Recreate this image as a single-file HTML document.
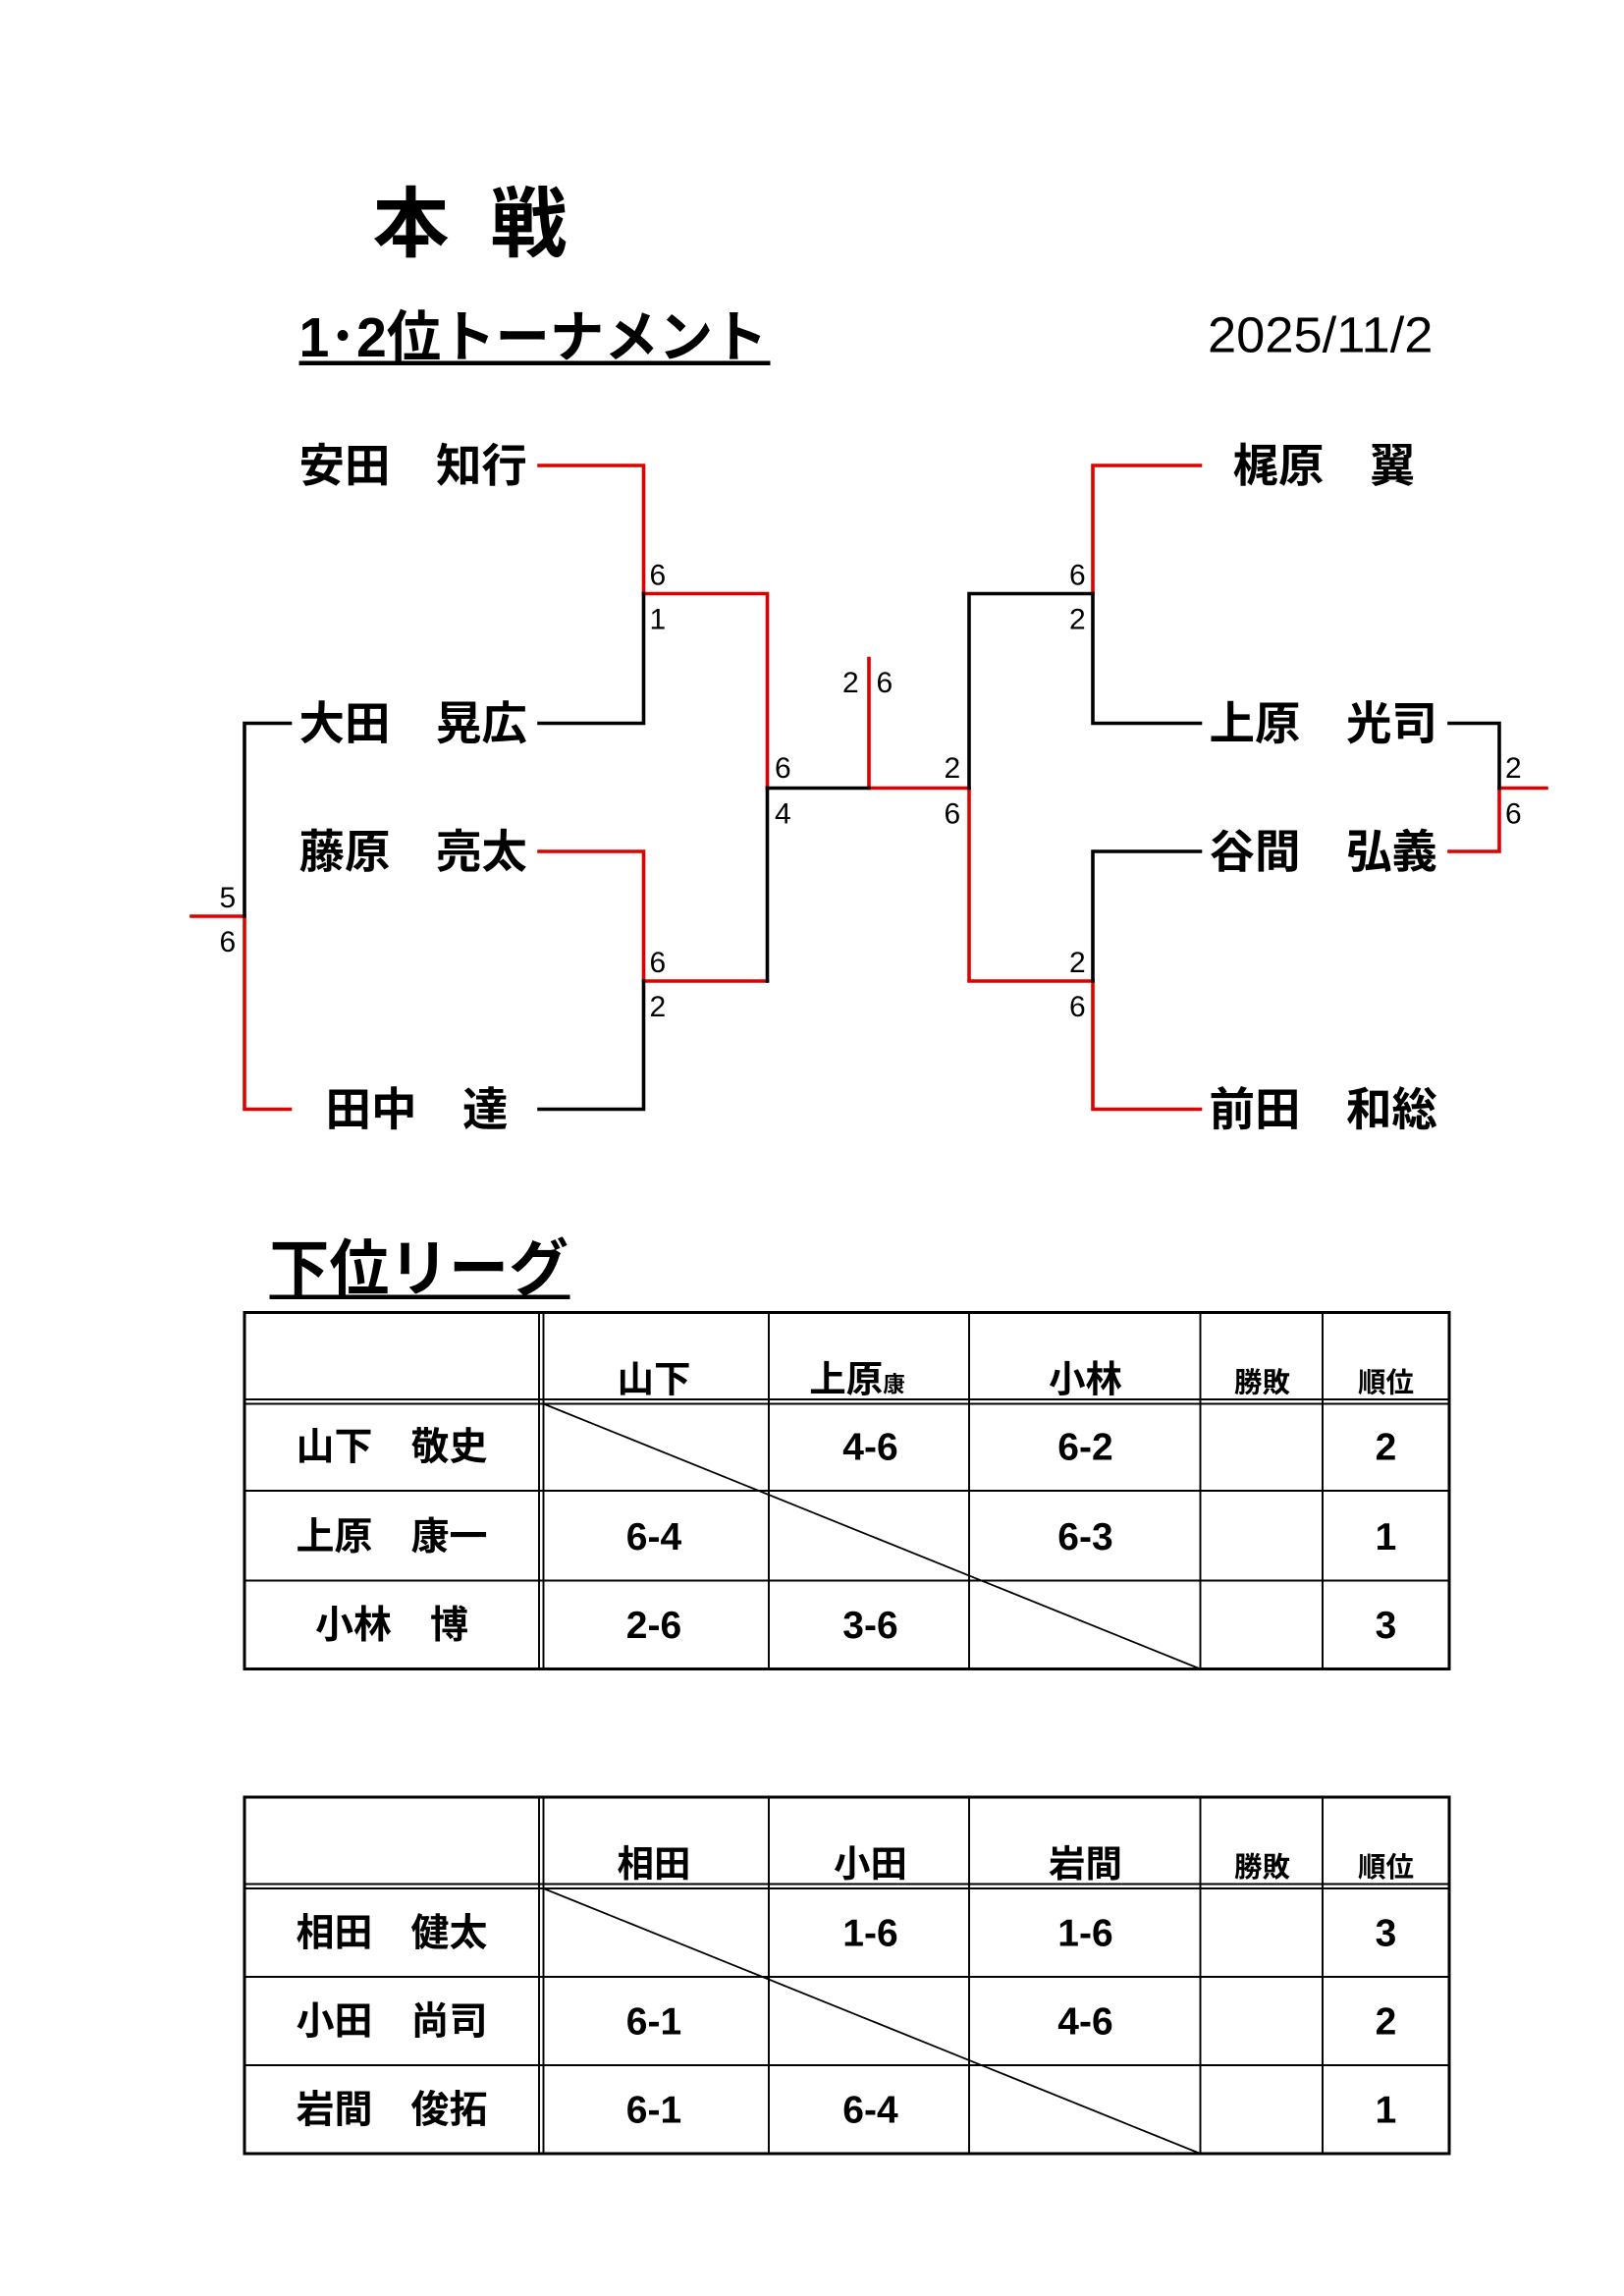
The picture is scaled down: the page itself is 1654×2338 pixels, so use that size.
<!DOCTYPE html>
<html><head><meta charset="utf-8"><style>
html,body{margin:0;padding:0;background:#fff}
svg{display:block}
text{font-family:"Liberation Sans","Noto Sans CJK JP",sans-serif}
.n{font-size:31px;font-weight:bold}
.s{font-size:20px}
.t{font-size:26px;font-weight:bold;text-anchor:middle}
.h{font-size:25px;font-weight:bold;text-anchor:middle}
.hs{font-size:19px;font-weight:bold;text-anchor:middle}
</style></head><body>
<svg width="1654" height="2338" viewBox="0 0 1102.67 1558.67" xmlns="http://www.w3.org/2000/svg">
<rect width="1102.67" height="1558.67" fill="#fff"/>
<text x="253" y="170" font-size="52" font-weight="bold">本</text>
<text x="333" y="170" font-size="52" font-weight="bold">戦</text>
<text x="203" y="242" font-size="38" font-weight="bold" textLength="318" lengthAdjust="spacingAndGlyphs">1･2位トーナメント</text>
<rect x="203" y="245" width="320" height="3" fill="#000"/>
<text x="820" y="239" font-size="34" textLength="153" lengthAdjust="spacingAndGlyphs">2025/11/2</text>

<g class="n">
<text x="203" y="327">安田　知行</text>
<text x="203" y="502">大田　晃広</text>
<text x="203" y="589">藤原　亮太</text>
<text x="221" y="764">田中　達</text>
<text x="837" y="327">梶原　翼</text>
<text x="821" y="502">上原　光司</text>
<text x="821" y="589">谷間　弘義</text>
<text x="821" y="764">前田　和総</text>
</g>

<g fill="none" stroke-width="2.4" stroke-linecap="square">
<g stroke="#e00000">
<path d="M366 316H437V403"/>
<path d="M437 403H521V535"/>
<path d="M366 578H437V666H521"/>
<path d="M590 447V535H658V666H742"/>
<path d="M815 316H742V403"/>
<path d="M742 666V753H815"/>
<path d="M984 578H1018V535H1050"/>
<path d="M130 622H166V753H197"/>
</g>
<g stroke="#000">
<path d="M437 403V491H366"/>
<path d="M521 535V666"/>
<path d="M437 666V753H366"/>
<path d="M521 535H590"/>
<path d="M658 535V403H742V491H815"/>
<path d="M815 578H742V666"/>
<path d="M984 491H1018V535"/>
<path d="M197 491H166V622"/>
</g>
</g>

<g class="s">
<text x="441" y="397">6</text><text x="441" y="427">1</text>
<text x="441" y="660">6</text><text x="441" y="690">2</text>
<text x="526" y="528">6</text><text x="526" y="559">4</text>
<text x="572" y="470">2</text><text x="595" y="470">6</text>
<text x="641" y="528">2</text><text x="641" y="559">6</text>
<text x="726" y="397">6</text><text x="726" y="427">2</text>
<text x="726" y="660">2</text><text x="726" y="690">6</text>
<text x="1022" y="528">2</text><text x="1022" y="559">6</text>
<text x="149" y="616">5</text><text x="149" y="646">6</text>
</g>

<text x="183" y="876" font-size="42" font-weight="bold" textLength="203" lengthAdjust="spacingAndGlyphs">下位リーグ</text>
<rect x="183" y="879" width="204" height="3" fill="#000"/>

<!-- Table 1 -->
<g fill="none" stroke="#000">
<rect x="166" y="891" width="818" height="242" stroke-width="2"/>
<path d="M366 891V1133M369 891V1133M522 891V1133M658 891V1133M815 891V1133M898 891V1133" stroke-width="1.3"/>
<path d="M166 950H984M166 953H984M166 1012H984M166 1073H984" stroke-width="1.3"/>
<path d="M369 953L815 1133" stroke-width="1.2"/>
</g>
<text class="h" x="444" y="945">山下</text>
<text class="h" x="582" y="945">上原<tspan font-size="15">康</tspan></text>
<text class="h" x="737" y="945">小林</text>
<text class="hs" x="857" y="945">勝敗</text>
<text class="hs" x="941" y="945">順位</text>
<text class="t" x="266" y="991">山下　敬史</text>
<text class="t" x="266" y="1052">上原　康一</text>
<text class="t" x="266" y="1112">小林　博</text>
<text class="t" x="591" y="991">4-6</text><text class="t" x="737" y="991">6-2</text><text class="t" x="941" y="991">2</text>
<text class="t" x="444" y="1052">6-4</text><text class="t" x="737" y="1052">6-3</text><text class="t" x="941" y="1052">1</text>
<text class="t" x="444" y="1112">2-6</text><text class="t" x="591" y="1112">3-6</text><text class="t" x="941" y="1112">3</text>

<!-- Table 2 -->
<g fill="none" stroke="#000">
<rect x="166" y="1220" width="818" height="242" stroke-width="2"/>
<path d="M366 1220V1462M369 1220V1462M522 1220V1462M658 1220V1462M815 1220V1462M898 1220V1462" stroke-width="1.3"/>
<path d="M166 1279H984M166 1282H984M166 1342H984M166 1402H984" stroke-width="1.3"/>
<path d="M369 1282L815 1462" stroke-width="1.2"/>
</g>
<text class="h" x="444" y="1274">相田</text>
<text class="h" x="591" y="1274">小田</text>
<text class="h" x="737" y="1274">岩間</text>
<text class="hs" x="857" y="1274">勝敗</text>
<text class="hs" x="941" y="1274">順位</text>
<text class="t" x="266" y="1321">相田　健太</text>
<text class="t" x="266" y="1381">小田　尚司</text>
<text class="t" x="266" y="1441">岩間　俊拓</text>
<text class="t" x="591" y="1321">1-6</text><text class="t" x="737" y="1321">1-6</text><text class="t" x="941" y="1321">3</text>
<text class="t" x="444" y="1381">6-1</text><text class="t" x="737" y="1381">4-6</text><text class="t" x="941" y="1381">2</text>
<text class="t" x="444" y="1441">6-1</text><text class="t" x="591" y="1441">6-4</text><text class="t" x="941" y="1441">1</text>
</svg>
</body></html>
